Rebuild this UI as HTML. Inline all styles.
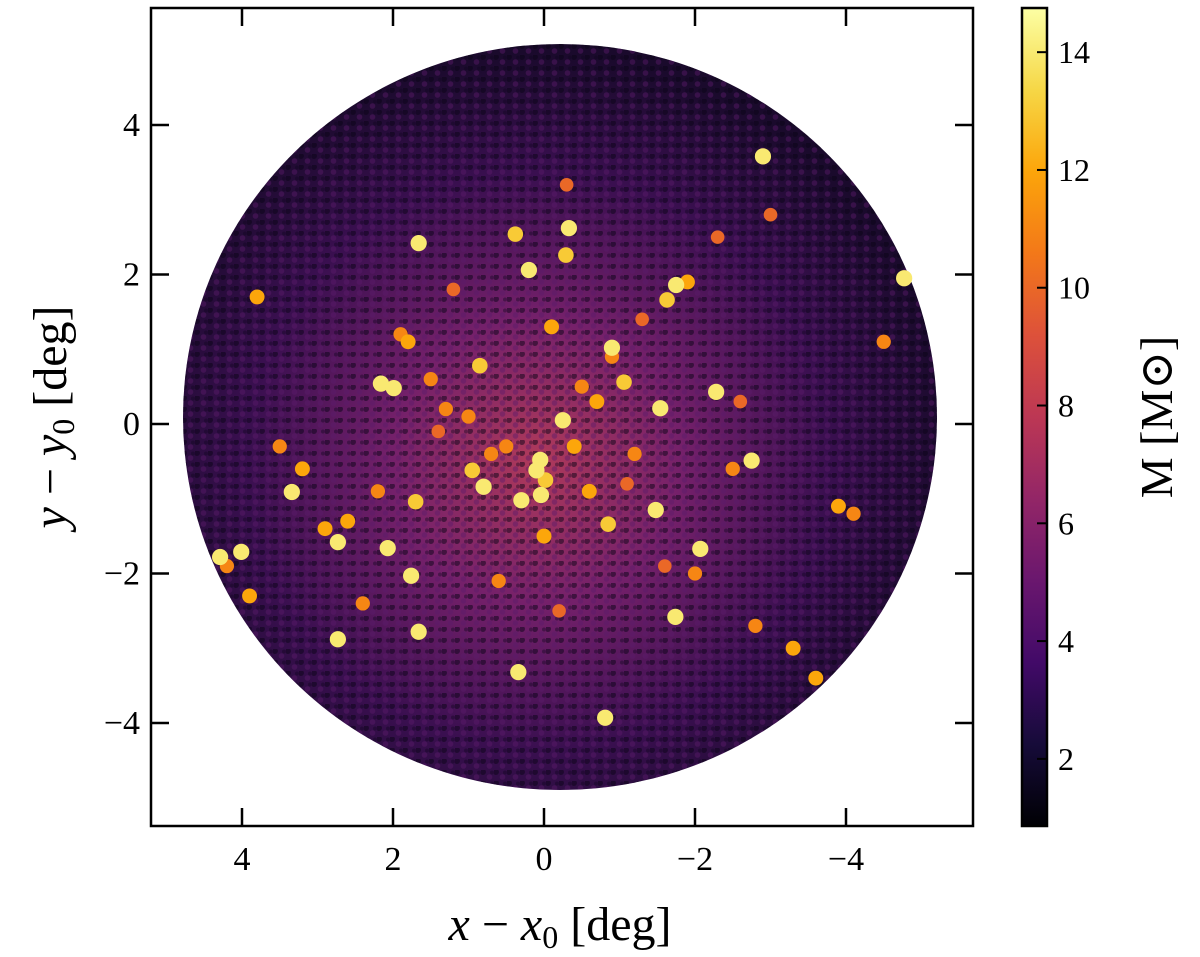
<!DOCTYPE html>
<html><head><meta charset="utf-8"><style>
html,body{margin:0;padding:0;background:#fff;}
svg{display:block;font-family:"Liberation Serif","DejaVu Serif",serif;}
</style></head><body>
<svg id="chart" width="1200" height="957" viewBox="0 0 1200 957" xmlns="http://www.w3.org/2000/svg">
<defs>
<linearGradient id="inferno" x1="0" y1="1" x2="0" y2="0">
<stop offset="0" stop-color="#000004"/><stop offset="0.1" stop-color="#160b39"/><stop offset="0.2" stop-color="#420a68"/><stop offset="0.3" stop-color="#6a176e"/><stop offset="0.4" stop-color="#932667"/><stop offset="0.5" stop-color="#bc3754"/><stop offset="0.6" stop-color="#dd513a"/><stop offset="0.7" stop-color="#f37819"/><stop offset="0.8" stop-color="#fca50a"/><stop offset="0.9" stop-color="#f6d746"/><stop offset="1" stop-color="#fcffa4"/>
</linearGradient>
<radialGradient id="diskgrad" cx="0.47" cy="0.56" r="0.55">
<stop offset="0" stop-color="#b03a5a"/><stop offset="0.35" stop-color="#74206a"/><stop offset="0.7" stop-color="#3a0f50"/><stop offset="1" stop-color="#1a0a2c"/>
</radialGradient>
<pattern id="speck" width="13" height="11" patternUnits="userSpaceOnUse">
<circle cx="2" cy="2" r="3" fill="#0a0416" opacity="0.5"/><circle cx="8.5" cy="7" r="2.8" fill="#5a1a6a" opacity="0.45"/><circle cx="11" cy="2.5" r="2" fill="#10061e" opacity="0.4"/>
</pattern>
<clipPath id="plotclip"><rect x="151" y="8" width="822" height="818"/></clipPath>
</defs>
<g id="plot" clip-path="url(#plotclip)"></g>
<g id="axes"></g>
</svg>
<script>
const xData=[-2.9,1.66,-0.33,0.38,0.2,-0.29,-1.63,-1.75,-4.77,2.16,1.99,0.85,-0.9,-1.06,-1.54,-2.28,-2.75,-0.25,0.05,0.1,-0.02,0.04,0.3,0.95,0.8,1.7,2.07,1.76,4.29,4.01,3.34,2.73,2.73,1.66,-0.81,0.34,-1.74,-2.07,-0.85,-1.48,-0.4,-0.6,
 3.8,1.8,1.3,0.5,-0.7,-1.2,-2.5,-3.9,-3.3,2.6,2.2,1.0,-0.1,-1.3,-2.0,4.2,3.2,0.7,-0.5,-1.9,-3.0,-4.5,2.4,1.2,-0.9,-2.3,3.5,-3.6,0.0,1.5,-1.1,2.9,-2.6,0.6,-1.6,1.9,-0.3,3.9,-4.1,-2.8,1.4,-0.2];
const yData=[3.58,2.42,2.62,2.54,2.06,2.26,1.66,1.86,1.95,0.54,0.48,0.78,1.02,0.56,0.21,0.43,-0.49,0.05,-0.48,-0.62,-0.75,-0.95,-1.02,-0.62,-0.84,-1.04,-1.66,-2.03,-1.78,-1.71,-0.91,-1.58,-2.88,-2.78,-3.93,-3.32,-2.58,-1.67,-1.34,-1.15,-0.3,-0.9,
 1.7,1.1,0.2,-0.3,0.3,-0.4,-0.6,-1.1,-3.0,-1.3,-0.9,0.1,1.3,1.4,-2.0,-1.9,-0.6,-0.4,0.5,1.9,2.8,1.1,-2.4,1.8,0.9,2.5,-0.3,-3.4,-1.5,0.6,-0.8,-1.4,0.3,-2.1,-1.9,1.2,3.2,-2.3,-1.2,-2.7,-0.1,-2.5];
const mData=[14,14,14,13,14,13,13,14,14,14,14,13,14,13,14,14,14,14,14,14,13,14,14,13,14,13,14,14,14,14,14,14,14,14,14,14,14,14,13,14,12,12,
 12,12,11,11,12,11,11,12,12,12,11,11,12,10,11,11,12,11,11,12,10,11,11,10,11,10,11,12,12,11,10,12,10,11,10,11,10,12,11,11,10,10];
const xTicks=[4,2,0,-2,-4];
const yTicks=[4,2,0,-2,-4];
const cTicks=[2,4,6,8,10,12,14];
const xScale=v=>544-75.5*v;
const yScale=v=>424-74.75*v;
const cScale=v=>826-(v-0.86)*(818/13.89);
const stops=[[0,"#000004"],[0.1,"#160b39"],[0.2,"#420a68"],[0.3,"#6a176e"],[0.4,"#932667"],[0.5,"#bc3754"],[0.6,"#dd513a"],[0.7,"#f37819"],[0.8,"#fca50a"],[0.9,"#f6d746"],[1,"#fcffa4"]];
function cmap(m){let t=Math.max(0,Math.min(1,(m-0.86)/13.89));for(let i=1;i<stops.length;i++){if(t<=stops[i][0]){const a=stops[i-1],b=stops[i],f=(t-a[0])/(b[0]-a[0]);const pa=a[1].match(/\w\w/g).map(h=>parseInt(h,16)),pb=b[1].match(/\w\w/g).map(h=>parseInt(h,16));return "rgb("+pa.map((c,k)=>Math.round(c+(pb[k]-c)*f)).join(",")+")";}}return stops[10][1];}
const NS="http://www.w3.org/2000/svg";
function mk(tag,attrs,parent){const e=document.createElementNS(NS,tag);for(const k in attrs)e.setAttribute(k,attrs[k]);parent.appendChild(e);return e;}
const plot=document.getElementById('plot'),axes=document.getElementById('axes');
const disk=mk('ellipse',{cx:560,cy:417,rx:377,ry:373,fill:'url(#diskgrad)'},plot);


const speck=mk('ellipse',{cx:560,cy:417,rx:377,ry:373,fill:'url(#speck)'},plot);


const idx=xData.map((_,i)=>i).sort((a,b)=>mData[a]-mData[b]);
idx.forEach(i=>{const r=3.5+mData[i]*0.33;
 const c=mk('circle',{cx:xScale(xData[i]),cy:yScale(yData[i]),r:r,fill:cmap(mData[i])},plot);
 
 });
const frame=mk('rect',{x:151,y:8,width:822,height:818,fill:'none',stroke:'#000','stroke-width':2.5},axes);


xTicks.forEach(v=>{const x=xScale(v);
 mk('line',{x1:x,y1:826,x2:x,y2:808,stroke:'#000','stroke-width':2.5},axes);
 mk('line',{x1:x,y1:8,x2:x,y2:26,stroke:'#000','stroke-width':2.5},axes);
 const t=mk('text',{x:x,y:870,'font-size':34,'text-anchor':'middle'},axes);t.textContent=v<0?'\u2212'+(-v):String(v);
 
 });
yTicks.forEach(v=>{const y=yScale(v);
 mk('line',{x1:151,y1:y,x2:169,y2:y,stroke:'#000','stroke-width':2.5},axes);
 mk('line',{x1:973,y1:y,x2:955,y2:y,stroke:'#000','stroke-width':2.5},axes);
 const t=mk('text',{x:140,y:y+11,'font-size':34,'text-anchor':'end'},axes);t.textContent=v<0?'\u2212'+(-v):String(v);
 
 });
const xt=mk('text',{x:560,y:940,'font-size':48,'text-anchor':'middle'},axes);
xt.innerHTML='<tspan font-style="italic">x</tspan> \u2212 <tspan font-style="italic">x</tspan><tspan font-size="32" dy="8">0</tspan><tspan dy="-8"> [deg]</tspan>';


const yt=mk('text',{x:0,y:0,'font-size':48,'text-anchor':'middle',transform:'translate(66,417) rotate(-90)'},axes);
yt.innerHTML='<tspan font-style="italic">y</tspan> \u2212 <tspan font-style="italic">y</tspan><tspan font-size="32" dy="8">0</tspan><tspan dy="-8"> [deg]</tspan>';


const cb=mk('rect',{x:1022,y:8,width:25,height:818,fill:'url(#inferno)',stroke:'#000','stroke-width':2.5},axes);


cTicks.forEach(v=>{const y=cScale(v);
 mk('line',{x1:1047,y1:y,x2:1037,y2:y,stroke:'#000','stroke-width':2},axes);
 const t=mk('text',{x:1058,y:y+11,'font-size':32},axes);t.textContent=String(v);
 
 });
const ct=mk('text',{x:0,y:0,'font-size':46,'text-anchor':'middle',transform:'translate(1172,417) rotate(-90)'},axes);
ct.textContent='M [M\u2299]';


</script>
</body></html>
